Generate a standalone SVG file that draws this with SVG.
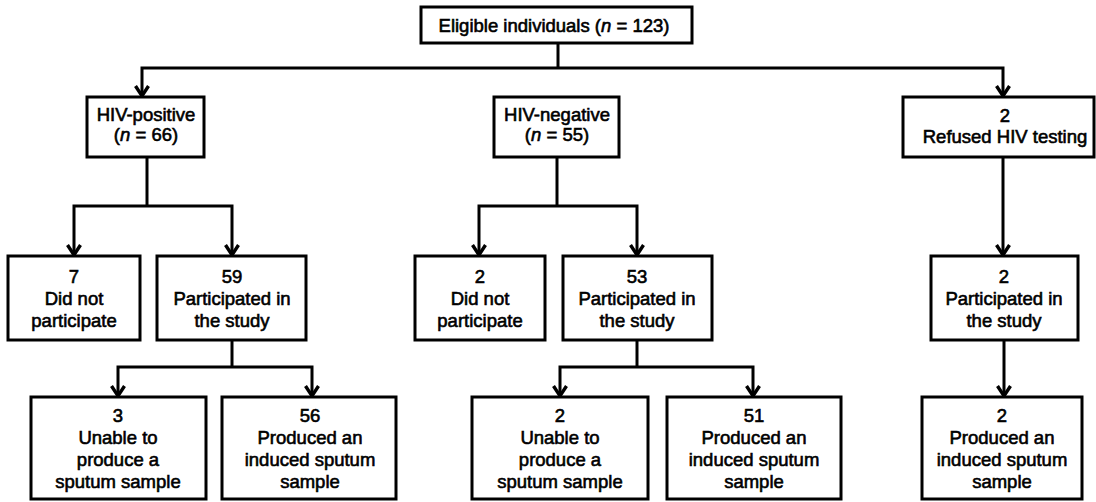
<svg xmlns="http://www.w3.org/2000/svg" width="1096" height="502" viewBox="0 0 1096 502">
  <defs>
    <style>
      .box { fill: #fff; stroke: #000; stroke-width: 3; }
      .lbl { font-family: "Liberation Sans", Arial, sans-serif; font-size: 18.5px; fill: #000; stroke: #000; stroke-width: 0.6; text-anchor: middle; }
      .it { font-style: italic; }
      .wire { fill: none; stroke: #000; stroke-width: 3; stroke-linejoin: miter; }
      .arrow { marker-end: url(#head); }
    </style>
    <marker id="head" markerUnits="userSpaceOnUse" viewBox="-12 -8 14 16" refX="0" refY="0" markerWidth="14" markerHeight="16" orient="auto" overflow="visible">
      <path d="M-10,-6.5 L0,0 L-10,6.5" fill="none" stroke="#000" stroke-width="3.4"/>
    </marker>
  </defs>
  <rect width="1096" height="502" fill="#fff"/>

  <!-- connectors -->
  <g id="connectors">
    <path class="wire" d="M558,43 V68"/>
    <path class="wire arrow" d="M558,68 H142 V96"/>
    <path class="wire arrow" d="M558,68 H1003 V96"/>

    <path class="wire" d="M147,157 V206"/>
    <path class="wire arrow" d="M147,206 H74 V255"/>
    <path class="wire arrow" d="M147,206 H232 V255"/>

    <path class="wire" d="M232,340 V367"/>
    <path class="wire arrow" d="M232,367 H118 V396"/>
    <path class="wire arrow" d="M232,367 H312 V396"/>

    <path class="wire" d="M557,157 V206"/>
    <path class="wire arrow" d="M557,206 H479 V255"/>
    <path class="wire arrow" d="M557,206 H637 V255"/>

    <path class="wire" d="M637,340 V367"/>
    <path class="wire arrow" d="M637,367 H560 V396"/>
    <path class="wire arrow" d="M637,367 H753 V396"/>

    <path class="wire arrow" d="M1003,157 V255"/>
    <path class="wire arrow" d="M1004,340 V396"/>
  </g>

  <g id="eligible">
    <rect class="box" x="421" y="7" width="271" height="36"/>
    <text class="lbl" x="554" y="32">Eligible individuals (<tspan class="it">n</tspan> = 123)</text>
  </g>

  <g id="hiv-positive">
    <rect class="box" x="87" y="97" width="117" height="60"/>
    <text class="lbl" x="146" y="121">HIV-positive</text>
    <text class="lbl" x="146" y="141">(<tspan class="it">n</tspan> = 66)</text>
  </g>

  <g id="hiv-negative">
    <rect class="box" x="494" y="97" width="125" height="60"/>
    <text class="lbl" x="557" y="121">HIV-negative</text>
    <text class="lbl" x="557" y="141">(<tspan class="it">n</tspan> = 55)</text>
  </g>

  <g id="refused">
    <rect class="box" x="903" y="97" width="191" height="60"/>
    <text class="lbl" x="1005" y="122">2</text>
    <text class="lbl" x="1005" y="143">Refused HIV testing</text>
  </g>

  <g id="pos-not-participated">
    <rect class="box" x="8" y="256" width="132" height="84"/>
    <text class="lbl" x="74" y="283">7</text>
    <text class="lbl" x="74" y="305">Did not</text>
    <text class="lbl" x="74" y="327">participate</text>
  </g>

  <g id="pos-participated">
    <rect class="box" x="157" y="256" width="149" height="84"/>
    <text class="lbl" x="232" y="283">59</text>
    <text class="lbl" x="232" y="305">Participated in</text>
    <text class="lbl" x="232" y="327">the study</text>
  </g>

  <g id="pos-unable">
    <rect class="box" x="31" y="397" width="175" height="102"/>
    <text class="lbl" x="118" y="422">3</text>
    <text class="lbl" x="118" y="444">Unable to</text>
    <text class="lbl" x="118" y="466">produce a</text>
    <text class="lbl" x="118" y="488">sputum sample</text>
  </g>

  <g id="pos-produced">
    <rect class="box" x="222" y="397" width="174" height="102"/>
    <text class="lbl" x="310" y="422">56</text>
    <text class="lbl" x="310" y="444">Produced an</text>
    <text class="lbl" x="310" y="466">induced sputum</text>
    <text class="lbl" x="310" y="488">sample</text>
  </g>

  <g id="neg-not-participated">
    <rect class="box" x="415" y="256" width="130" height="84"/>
    <text class="lbl" x="480" y="283">2</text>
    <text class="lbl" x="480" y="305">Did not</text>
    <text class="lbl" x="480" y="327">participate</text>
  </g>

  <g id="neg-participated">
    <rect class="box" x="563" y="256" width="149" height="84"/>
    <text class="lbl" x="637" y="283">53</text>
    <text class="lbl" x="637" y="305">Participated in</text>
    <text class="lbl" x="637" y="327">the study</text>
  </g>

  <g id="neg-unable">
    <rect class="box" x="472" y="397" width="176" height="102"/>
    <text class="lbl" x="560" y="422">2</text>
    <text class="lbl" x="560" y="444">Unable to</text>
    <text class="lbl" x="560" y="466">produce a</text>
    <text class="lbl" x="560" y="488">sputum sample</text>
  </g>

  <g id="neg-produced">
    <rect class="box" x="667" y="397" width="174" height="102"/>
    <text class="lbl" x="754" y="422">51</text>
    <text class="lbl" x="754" y="444">Produced an</text>
    <text class="lbl" x="754" y="466">induced sputum</text>
    <text class="lbl" x="754" y="488">sample</text>
  </g>

  <g id="untested-participated">
    <rect class="box" x="931" y="256" width="147" height="84"/>
    <text class="lbl" x="1004" y="283">2</text>
    <text class="lbl" x="1004" y="305">Participated in</text>
    <text class="lbl" x="1004" y="327">the study</text>
  </g>

  <g id="untested-produced">
    <rect class="box" x="922" y="397" width="160" height="102"/>
    <text class="lbl" x="1002" y="422">2</text>
    <text class="lbl" x="1002" y="444">Produced an</text>
    <text class="lbl" x="1002" y="466">induced sputum</text>
    <text class="lbl" x="1002" y="488">sample</text>
  </g>
</svg>
